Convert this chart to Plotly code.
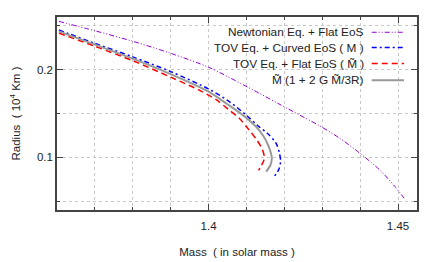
import plotly.graph_objects as go

# ---- data ----
newton_mass = [1.3605, 1.37, 1.38, 1.39, 1.40, 1.4134, 1.4186, 1.424, 1.4293, 1.4346, 1.4399, 1.4452, 1.4492, 1.4516]
newton_radius = [0.2550, 0.2443, 0.2323, 0.2186, 0.2027, 0.1730, 0.1608, 0.1483, 0.1360, 0.1218, 0.1048, 0.0855, 0.0666, 0.0534]

curved_mass = [1.3605, 1.37, 1.38, 1.39, 1.40, 1.405, 1.41, 1.413, 1.4155, 1.4178, 1.4187, 1.419, 1.4185, 1.4172]
curved_radius = [0.2451, 0.2300, 0.2145, 0.1978, 0.1780, 0.1650, 0.1480, 0.1360, 0.1275, 0.1161, 0.1048, 0.0952, 0.0858, 0.0775]

flat_mass = [1.3605, 1.37, 1.38, 1.39, 1.3975, 1.4019, 1.4054, 1.4081, 1.4107, 1.4127, 1.4141, 1.4147, 1.4145, 1.4138, 1.4132]
flat_radius = [0.2417, 0.2266, 0.2102, 0.1914, 0.1767, 0.1660, 0.1540, 0.1445, 0.1312, 0.1200, 0.1100, 0.1010, 0.0955, 0.0898, 0.0852]

corr_mass = [1.3605, 1.37, 1.38, 1.39, 1.40, 1.405, 1.4094, 1.4125, 1.4145, 1.4158, 1.4165, 1.4167, 1.4163, 1.4152]
corr_radius = [0.2436, 0.2285, 0.2125, 0.1948, 0.1748, 0.1605, 0.1470, 0.1350, 0.1240, 0.1130, 0.1040, 0.0990, 0.0910, 0.0838]

legend_labels = [
    "Newtonian Eq. + Flat EoS",
    "TOV Eq. + Curved EoS ( M )",
    "TOV Eq. + Flat EoS ( M\u0303 )",
    "M\u0303 (1 + 2 G M\u0303/3R)",
]

x_range = [1.36, 1.455]
y_range = [0.04, 0.26]

# ---- styles ----
styles = [
    dict(color="#9400D3", width=1, dash="5px,2px,1px,2px,1px,2px"),
    dict(color="#0000FF", width=1.5, dash="5px,3px,2px,3px"),
    dict(color="#FF0000", width=1.5, dash="6px,4px"),
    dict(color="#999999", width=2, dash="solid"),
]

series = [
    (newton_mass, newton_radius),
    (curved_mass, curved_radius),
    (flat_mass, flat_radius),
    (corr_mass, corr_radius),
]

fig = go.Figure()
for (m, r), st, name in zip(series, styles, legend_labels):
    fig.add_trace(go.Scatter(
        x=m, y=r, mode="lines", name=name, showlegend=False,
        line=dict(color=st["color"], width=st["width"], dash=st["dash"], shape="spline", smoothing=0.8),
    ))

# manual legend (text left, sample right)
row_y = [0.9209, 0.8417, 0.7589, 0.6726]
for lbl, st, yy in zip(legend_labels, styles, row_y):
    fig.add_annotation(
        x=0.8575, y=yy, xref="paper", yref="paper", text=lbl, showarrow=False,
        xanchor="right", yanchor="middle", font=dict(size=11.8, color="#222222"),
    )
    fig.add_shape(
        type="line", xref="paper", yref="paper", x0=0.8742, x1=0.9639, y0=yy, y1=yy,
        line=dict(color=st["color"], width=st["width"], dash=st["dash"]),
    )

axis_common = dict(
    showline=True, linecolor="#444444", linewidth=1.5, mirror="ticks",
    ticks="inside", ticklen=6, tickcolor="#444444", tickwidth=1,
    showgrid=True, gridcolor="#c8c8c8", gridwidth=1, griddash="dot",
    zeroline=False, automargin=False, tickfont=dict(size=11.5),
)

fig.update_xaxes(
    range=x_range, tick0=1.4, dtick=0.05,
    minor=dict(dtick=0.01, tick0=1.4, ticks="inside", ticklen=3, tickcolor="#444444",
               showgrid=True, gridcolor="#c8c8c8", griddash="dot"),
    ticklabelstandoff=4,
    title=dict(text="Mass  ( in solar mass )", standoff=17, font=dict(size=11.5)),
    **axis_common,
)
fig.update_yaxes(
    range=y_range, tick0=0.1, dtick=0.1,
    minor=dict(dtick=0.05, tick0=0.05, ticks="inside", ticklen=3, tickcolor="#444444",
               showgrid=True, gridcolor="#c8c8c8", griddash="dot"),
    ticklabelstandoff=0,
    title=dict(text="Radius  ( 10<sup>4</sup> Km )", standoff=21, font=dict(size=11.5)),
    **axis_common,
)

# the page body has an 8px margin, so the figure is 8px smaller than the window
fig.update_layout(
    width=428, height=254,
    margin=dict(l=49, r=19, t=8.7, b=52),
    paper_bgcolor="white", plot_bgcolor="white",
    font=dict(family="Liberation Sans, Arial, sans-serif", size=11.5, color="#222222"),
)

fig.write_html("out.html")
